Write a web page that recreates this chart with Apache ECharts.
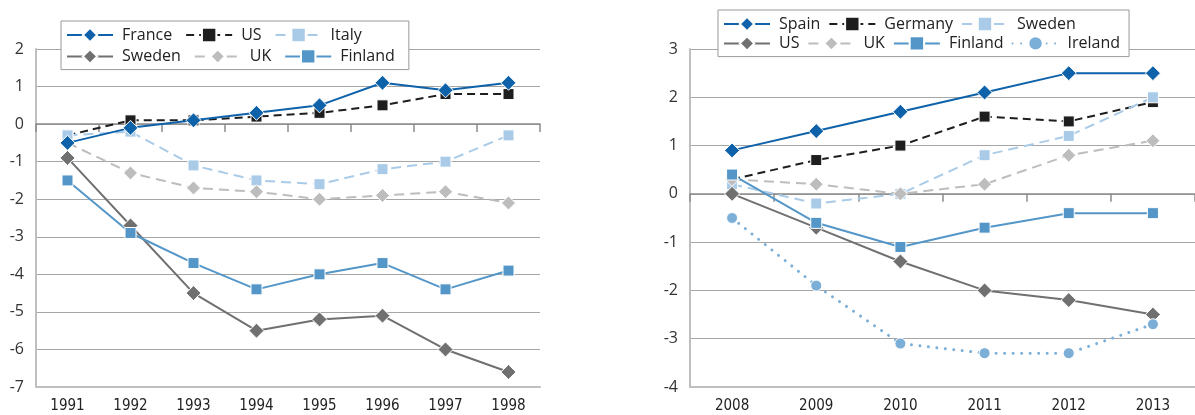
<!DOCTYPE html>
<html><head><meta charset="utf-8">
<script src="https://cdn.jsdelivr.net/npm/echarts@6/dist/echarts.min.js"></script>
<style>html,body{margin:0;padding:0;background:#fff}#c{width:1195px;height:415px}</style>
</head><body><div id="c"></div>
<script>
// ---- Left chart data (1991-1998)
var yearsL = ['1991','1992','1993','1994','1995','1996','1997','1998'];
var franceL = [-0.5,-0.1,0.1,0.3,0.5,1.1,0.9,1.1];
var usL = [-0.3,0.1,0.1,0.2,0.3,0.5,0.8,0.8];
var italyL = [-0.3,-0.2,-1.1,-1.5,-1.6,-1.2,-1.0,-0.3];
var swedenL = [-0.9,-2.7,-4.5,-5.5,-5.2,-5.1,-6.0,-6.6];
var ukL = [-0.5,-1.3,-1.7,-1.8,-2.0,-1.9,-1.8,-2.1];
var finlandL = [-1.5,-2.9,-3.7,-4.4,-4.0,-3.7,-4.4,-3.9];
// ---- Right chart data (2008-2013)
var yearsR = ['2008','2009','2010','2011','2012','2013'];
var spainR = [0.9,1.3,1.7,2.1,2.5,2.5];
var germanyR = [0.3,0.7,1.0,1.6,1.5,1.9];
var swedenR = [0.2,-0.2,0.0,0.8,1.2,2.0];
var usR = [0.0,-0.7,-1.4,-2.0,-2.2,-2.5];
var ukR = [0.3,0.2,0.0,0.2,0.8,1.1];
var finlandR = [0.4,-0.6,-1.1,-0.7,-0.4,-0.4];
var irelandR = [-0.5,-1.9,-3.1,-3.3,-3.3,-2.7];
var ticksL = {min:-7, max:2, interval:1};
var ticksR = {min:-4, max:3, interval:1};

var C = {
  dblue:'#0e62a9', black:'#1e1e1e', lblue:'#aacbe8', gray:'#707070',
  lgray:'#bdbdbd', mblue:'#5496c8', ireland:'#7bafd8'
};
var FONT = '"Open Sans", "Noto Sans", sans-serif';
var NARROW = '"Liberation Sans Narrow", "DejaVu Sans Condensed", "Open Sans", sans-serif';

function line(name, data, color, opts, xi, yi) {
  opts = opts || {};
  return {
    type:'line', name:name, data:data, xAxisIndex:xi, yAxisIndex:yi,
    symbol: opts.symbol || 'diamond', symbolSize: opts.size || 15,
    z: opts.z || 2,
    lineStyle:{color:color, width:opts.width||2, type:opts.dash||'solid', cap: opts.cap||'butt'},
    itemStyle:{color:color, borderColor:'#fff', borderWidth:1, opacity:1},
    emphasis:{disabled:true}, animation:false
  };
}

function yAxis(gi, t) {
  return {
    type:'value', gridIndex:gi, min:t.min, max:t.max, interval:t.interval,
    axisLine:{show:true, lineStyle:{color:'#bfbfbf', width:2}},
    axisTick:{show:false},
    axisLabel:{color:'#333', fontSize:16, fontFamily:FONT, margin:12},
    splitLine:{lineStyle:{color:'#a6a6a6', width:1}}
  };
}
function xBottom(gi, cats) {
  return {
    type:'category', gridIndex:gi, data:cats, position:'bottom',
    axisLine:{onZero:false, show:true, lineStyle:{color:'#bfbfbf', width:2}},
    axisTick:{show:false},
    axisLabel:{color:'#222', fontSize:15, fontFamily:NARROW, margin:12}
  };
}
function xZero(gi, cats) {
  return {
    type:'category', gridIndex:gi, data:cats, position:'top',
    axisLine:{onZero:true, show:true, lineStyle:{color:'#8c8c8c', width:1.5}},
    axisTick:{show:true, inside:true, length:8, lineStyle:{color:'#8c8c8c', width:1.5}},
    axisLabel:{show:false}, splitLine:{show:false}
  };
}

function legend(left, top, names, gap, pad, textPadR) {
  return {
    left:left, top:top, orient:'horizontal', data:names,
    itemWidth:46, itemHeight:18, itemGap:gap, padding:pad,
    borderColor:'#999', borderWidth:1, backgroundColor:'#fff',
    selectedMode:false, z:10,
    formatter:function(n){ return n.slice(2); },
    textStyle:{fontSize:16, fontFamily:FONT, color:'#222', lineHeight:16, padding:[0,textPadR,0,4]}
  };
}

var option = {
  animation:false,
  grid:[
    {left:36, top:49, width:504, bottom:28},
    {left:690, top:49, right:0, bottom:28}
  ],
  xAxis:[xBottom(0, yearsL), xZero(0, yearsL), xBottom(1, yearsR), xZero(1, yearsR)],
  yAxis:[yAxis(0, ticksL), yAxis(1, ticksR)],
  legend:[
    legend(61, 21, ['L_France','L_US','L_Italy','','L_Sweden','L_UK','L_Finland'], 5, [5,6,5,5], 8),
    legend(718, 10, ['R_Spain','R_Germany','R_Sweden','','R_US','R_UK','R_Finland','R_Ireland'], 3, [5,4,5,5], 5)
  ],
  series:[
    line('L_US', usL, C.black, {symbol:'rect', size:11, dash:[8,5]}, 0, 0),
    line('L_Italy', italyL, C.lblue, {symbol:'rect', size:11, dash:[10,6]}, 0, 0),
    line('L_Sweden', swedenL, C.gray, {size:15}, 0, 0),
    line('L_UK', ukL, C.lgray, {size:14, dash:[10,6]}, 0, 0),
    line('L_Finland', finlandL, C.mblue, {symbol:'rect', size:11}, 0, 0),
    line('L_France', franceL, C.dblue, {size:15, z:3}, 0, 0),

    line('R_Spain', spainR, C.dblue, {size:15}, 2, 1),
    line('R_Germany', germanyR, C.black, {symbol:'rect', size:11, dash:[8,5]}, 2, 1),
    line('R_Sweden', swedenR, C.lblue, {symbol:'rect', size:11, dash:[10,6]}, 2, 1),
    line('R_US', usR, C.gray, {size:15}, 2, 1),
    line('R_UK', ukR, C.lgray, {size:14, dash:[10,6]}, 2, 1),
    line('R_Finland', finlandR, C.mblue, {symbol:'rect', size:11}, 2, 1),
    line('R_Ireland', irelandR, C.ireland, {symbol:'circle', size:11, dash:[0.01,8.5], width:3, cap:'round'}, 2, 1)
  ]
};
var chart = echarts.init(document.getElementById('c'), null, {renderer:'canvas'});
chart.setOption(option);
</script></body></html>
